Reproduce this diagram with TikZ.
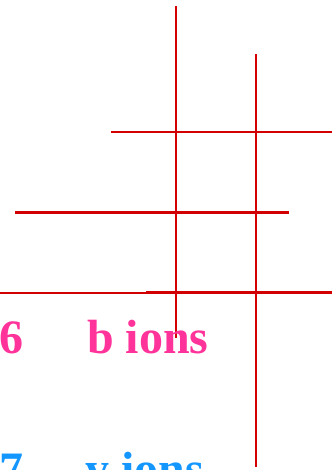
\documentclass[tikz,border=0pt]{standalone}
\usepackage{fontspec}
\setmainfont{Liberation Serif}
\usepackage{tikz}
\usetikzlibrary{positioning}
\definecolor{peakred}{RGB}{210,0,0}
\definecolor{bpink}{RGB}{255,51,153}
\definecolor{yblue}{RGB}{20,150,255}

\begin{document}
\begin{tikzpicture}[x=1pt,y=-1pt,
    peak/.style={draw=peakred,line width=2.8pt},
    ionlbl/.style={anchor=base west,inner sep=0pt,font=\fontsize{48}{52}\selectfont\bfseries}]
    \useasboundingbox (0,0) rectangle (332,470);
    \clip (0,0) rectangle (332,470);
    % vertical peaks
    \draw[peak] (176,6) -- (176,338);
    \draw[peak] (256,54) -- (256,467);
    % horizontal levels
    \draw[peak] (111,132) -- (332,132);
    \draw[peak] (15,212.5) -- (289,212.5);
    \draw[peak] (0,293) -- (156,293);
    \draw[peak] (146,292.5) -- (332,292.5);
    % labels
    \node[ionlbl,text=bpink] (bnum) at (-1,353) {6};
    \node[ionlbl,text=bpink] (blbl) at (87,353) {b ions};
    \node[ionlbl,text=yblue] (ynum) at (-1,485) {7};
    \node[ionlbl,text=yblue] (ylbl) at (85,485) {y ions};
  \end{tikzpicture}
\end{document}
